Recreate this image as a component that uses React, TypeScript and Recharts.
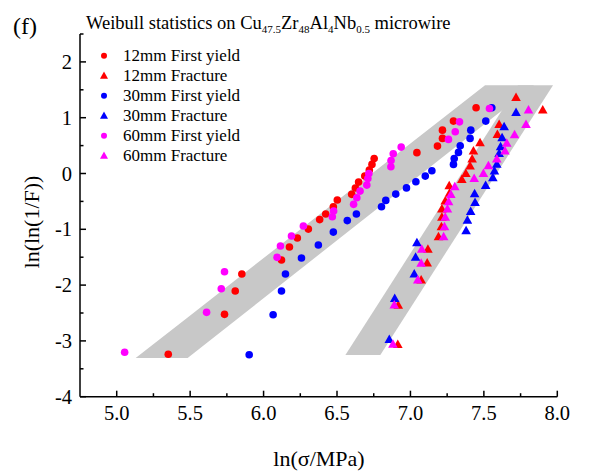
import React from 'react';
import { ComposedChart, Scatter, Area, XAxis, YAxis } from 'recharts';

const FONT = '"Liberation Serif", "Times New Roman", serif';

const xTicks = [5, 5.25, 5.5, 5.75, 6, 6.25, 6.5, 6.75, 7, 7.25, 7.5, 7.75, 8];
const yTicks = [-4, -3.5, -3, -2.5, -2, -1.5, -1, -0.5, 0, 0.5, 1, 1.5, 2, 2.5];

const seriesNames = [
  '12mm First yield',
  '12mm Fracture',
  '30mm First yield',
  '30mm Fracture',
  '60mm First yield',
  '60mm Fracture',
];
const seriesColors = ['#ff0000', '#ff0000', '#0000ff', '#0000ff', '#ff00ff', '#ff00ff'];
const seriesShapes = ['circle', 'triangle', 'circle', 'triangle', 'circle', 'triangle'];

const yield12 = [
  [5.351, -3.24], [5.734, -2.524], [5.807, -2.106], [5.852, -1.802], [6.122, -1.551],
  [6.176, -1.318], [6.23, -1.157], [6.305, -0.996], [6.382, -0.826], [6.423, -0.727],
  [6.475, -0.596], [6.502, -0.476], [6.6, -0.374], [6.625, -0.261], [6.647, -0.154],
  [6.689, -0.047], [6.72, 0.061], [6.738, 0.163], [6.753, 0.267], [7.044, 0.374],
  [7.184, 0.491], [7.218, 0.629], [7.218, 0.777], [7.293, 0.939], [7.447, 1.177],
];
const fracture12 = [
  [6.914, -3.065], [6.917, -2.361], [7.073, -1.909], [7.114, -1.605], [7.119, -1.359],
  [7.191, -1.134], [7.211, -0.955], [7.214, -0.786], [7.214, -0.638], [7.237, -0.494],
  [7.266, -0.356], [7.264, -0.22], [7.35, -0.106], [7.377, 0.002], [7.406, 0.133],
  [7.42, 0.258], [7.429, 0.401], [7.474, 0.55], [7.592, 0.7], [7.604, 0.879],
  [7.901, 1.136], [7.719, 1.363],
];
const yield30 = [
  [5.902, -3.247], [6.065, -2.531], [6.122, -2.106], [6.149, -1.802], [6.258, -1.515],
  [6.373, -1.282], [6.475, -1.05], [6.57, -0.844], [6.632, -0.727], [6.803, -0.596],
  [6.832, -0.482], [6.9, -0.369], [6.973, -0.258], [7.037, -0.149], [7.101, -0.047],
  [7.146, 0.048], [7.293, 0.163], [7.298, 0.27], [7.327, 0.378], [7.339, 0.496],
  [7.406, 0.629], [7.411, 0.777], [7.513, 0.939], [7.554, 1.177],
];
const fracture30 = [
  [6.856, -2.975], [6.893, -2.241], [7.026, -1.802], [7.035, -1.503], [7.044, -1.241],
  [7.379, -1.026], [7.388, -0.84], [7.41, -0.679], [7.44, -0.518], [7.437, -0.364],
  [7.512, -0.213], [7.561, -0.077], [7.572, 0.043], [7.588, 0.168], [7.604, 0.36],
  [7.614, 0.478], [7.624, 0.639], [7.638, 0.836], [7.719, 1.094],
];
const yield60 = [
  [5.054, -3.204], [5.612, -2.488], [5.712, -2.065], [5.734, -1.761], [6.092, -1.503],
  [6.115, -1.3], [6.19, -1.121], [6.271, -0.942], [6.468, -0.776], [6.477, -0.673],
  [6.613, -0.553], [6.635, -0.435], [6.657, -0.315], [6.703, -0.208], [6.71, -0.091],
  [6.717, 0.0], [6.867, 0.12], [6.868, 0.231], [6.883, 0.353], [6.937, 0.473],
  [7.259, 0.611], [7.305, 0.747], [7.334, 0.926], [7.538, 1.166],
];
const fracture60 = [
  [6.881, -3.061], [6.89, -2.357], [7.05, -1.909], [7.073, -1.61], [7.077, -1.359],
  [7.226, -1.134], [7.232, -0.955], [7.237, -0.786], [7.252, -0.638], [7.26, -0.507],
  [7.275, -0.378], [7.302, -0.238], [7.434, -0.088], [7.497, 0.002], [7.531, 0.138],
  [7.588, 0.258], [7.644, 0.401], [7.656, 0.544], [7.709, 0.693], [7.787, 0.879],
  [7.804, 1.136],
];
const allSeries = [yield12, fracture12, yield30, fracture30, yield60, fracture60];

// shaded guide bands (vertices of the two grey parallelograms)
const bandYieldX = [5.129, 5.483, 7.508, 7.842];
const bandYieldLow = [-3.306, -3.306, 0.891, 1.583];
const bandYieldHigh = [-3.306, -2.579, 1.583, 1.583];
const bandFractureX = [6.557, 6.795, 7.733, 7.971];
const bandFractureLow = [-3.253, -3.253, 0.604, 1.583];
const bandFractureHigh = [-3.253, -2.274, 1.583, 1.583];

const bandRows = [
  ...bandYieldX.map((x, i) => ({ x, yb: [bandYieldLow[i], bandYieldHigh[i]], fb: null })),
  ...bandFractureX.map((x, i) => ({ x, yb: null, fb: [bandFractureLow[i], bandFractureHigh[i]] })),
].sort((a, b) => a.x - b.x);

const isMajor = (v: number, step: number) => Math.abs(v / step - Math.round(v / step)) < 1e-6;

const XTick = (props: any) => {
  const { x, y, payload } = props;
  const v = payload.value;
  const major = isMajor(v, 0.5);
  return (
    <g>
      <line x1={x} x2={x} y1={y} y2={y - (major ? 6 : 3.5)} stroke="#000" strokeWidth={1.5} />
      {major && (
        <text x={x} y={y + 23} textAnchor="middle" fontSize={20.5} fontFamily={FONT} fill="#000">
          {v.toFixed(1)}
        </text>
      )}
    </g>
  );
};

const YTick = (props: any) => {
  const { x, y, payload } = props;
  const v = payload.value;
  const major = isMajor(v, 1);
  return (
    <g>
      <line x1={x} x2={x + (major ? 6 : 3.5)} y1={y} y2={y} stroke="#000" strokeWidth={1.5} />
      {major && (
        <text x={x - 8} y={y + 7} textAnchor="end" fontSize={20.5} fontFamily={FONT} fill="#000">
          {String(v)}
        </text>
      )}
    </g>
  );
};

const makeShape = (kind: string, color: string) => (p: any) => {
  const { cx, cy } = p;
  if (kind === 'circle') return <circle cx={cx} cy={cy} r={3.8} fill={color} />;
  return (
    <polygon
      points={`${cx},${cy - 5} ${cx - 4.8},${cy + 3.5} ${cx + 4.8},${cy + 3.5}`}
      fill={color}
    />
  );
};

const LegendMarker = ({ kind, color, x, y }: any) =>
  kind === 'circle' ? (
    <circle cx={x} cy={y} r={3} fill={color} />
  ) : (
    <polygon points={`${x},${y - 4.2} ${x - 4},${y + 3} ${x + 4},${y + 3}`} fill={color} />
  );

export default function App() {
  return (
    <div style={{ position: 'absolute', left: 0, top: 0, width: 601, height: 474, background: '#fff' }}>
      <ComposedChart
        width={601}
        height={474}
        data={bandRows}
        margin={{ top: 34, right: 43.7, bottom: 37.3, left: 20 }}
      >
        <XAxis
          type="number"
          dataKey="x"
          domain={[4.75, 8]}
          ticks={xTicks}
          interval={0}
          allowDataOverflow
          height={40}
          tickSize={0}
          tickMargin={0}
          tickLine={false}
          axisLine={{ stroke: '#000', strokeWidth: 1.5 }}
          tick={<XTick />}
        />
        <YAxis
          type="number"
          dataKey="y"
          domain={[-4, 2.5]}
          ticks={yTicks}
          interval={0}
          allowDataOverflow
          width={60}
          tickSize={0}
          tickMargin={0}
          tickLine={false}
          axisLine={{ stroke: '#000', strokeWidth: 1.5 }}
          tick={<YTick />}
        />
        <Area
          type="linear"
          dataKey="yb"
          connectNulls
          stroke="none"
          fill="#c8c8c8"
          fillOpacity={1}
          isAnimationActive={false}
          dot={false}
          activeDot={false}
        />
        <Area
          type="linear"
          dataKey="fb"
          connectNulls
          stroke="none"
          fill="#c8c8c8"
          fillOpacity={1}
          isAnimationActive={false}
          dot={false}
          activeDot={false}
        />
        {allSeries.map((s, i) => (
          <Scatter
            key={seriesNames[i]}
            name={seriesNames[i]}
            data={s.map(([x, y]) => ({ x, y }))}
            dataKey="y"
            fill={seriesColors[i]}
            shape={makeShape(seriesShapes[i], seriesColors[i])}
            isAnimationActive={false}
          />
        ))}
      </ComposedChart>
      <svg
        width={601}
        height={474}
        style={{ position: 'absolute', left: 0, top: 0, pointerEvents: 'none' }}
        fontFamily={FONT}
      >
        <text x={13} y={34} fontSize={24} fill="#000">(f)</text>
        <text x={86} y={29} fontSize={18.5} fill="#000">
          <tspan>Weibull statistics on Cu</tspan>
          <tspan fontSize={11} dy={4}>47.5</tspan>
          <tspan dy={-4}>Zr</tspan>
          <tspan fontSize={11} dy={4}>48</tspan>
          <tspan dy={-4}>Al</tspan>
          <tspan fontSize={11} dy={4}>4</tspan>
          <tspan dy={-4}>Nb</tspan>
          <tspan fontSize={11} dy={4}>0.5</tspan>
          <tspan dy={-4}> microwire</tspan>
        </text>
        {seriesNames.map((n, i) => {
          const cy = 55.7 + i * 20;
          return (
            <g key={n}>
              <LegendMarker kind={seriesShapes[i]} color={seriesColors[i]} x={104} y={cy} />
              <text x={123} y={cy + 5.5} fontSize={17} fill="#000">{n}</text>
            </g>
          );
        })}
        <text x={319} y={466} fontSize={22} textAnchor="middle" fill="#000">ln(σ/MPa)</text>
        <text
          x={0}
          y={0}
          fontSize={22}
          textAnchor="middle"
          fill="#000"
          transform="translate(39,222) rotate(-90)"
        >
          ln(ln(1/F))
        </text>
      </svg>
    </div>
  );
}
